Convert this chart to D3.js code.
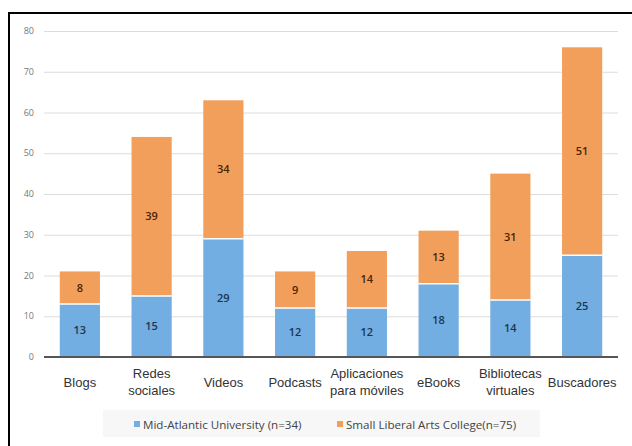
<meta charset="utf-8">
<style>
body { margin: 0; background: #fff; }
svg text { font-family: 'Open Sans', sans-serif; }
svg text.cat, svg text.cat tspan { font-family: 'Liberation Sans', Arial, sans-serif; }
</style>
<body>
<div id="chart"></div>
<script src="https://d3js.org/d3.v7.min.js"></script>
<script>
// categories and series
var categories = [["Blogs"], ["Redes", "sociales"], ["Videos"], ["Podcasts"],
                  ["Aplicaciones", "para móviles"], ["eBooks"], ["Bibliotecas", "virtuales"], ["Buscadores"]];
var midAtlantic = [13, 15, 29, 12, 12, 18, 14, 25];
var liberalArts = [8, 39, 34, 9, 14, 13, 31, 51];
var seriesNames = ["Mid-Atlantic University (n=34)", "Small Liberal Arts College(n=75)"];
var yTicks = [0, 10, 20, 30, 40, 50, 60, 70, 80];

var width = 632, height = 446,
    margin = {top: 31, right: 14, bottom: 89, left: 44};
var colors = ["#72aee1", "#f29f5c"],
    labelColors = ["#1d3552", "#4a2508"];

var svg = d3.select("#chart").append("svg")
    .attr("width", width)
    .attr("height", height);

// frame (left + top edges only, the rest is cropped)
svg.append("path")
    .attr("d", "M9,446 V13 H632")
    .attr("fill", "none")
    .attr("stroke", "#000")
    .attr("stroke-width", 2);

var g = svg.append("g").attr("transform", `translate(${margin.left},${margin.top})`);
var w = width - margin.left - margin.right,
    h = height - margin.top - margin.bottom;

var x = d3.scaleBand().domain(d3.range(categories.length)).range([0, w]).paddingInner(0.44).paddingOuter(0.22);
var y = d3.scaleLinear().domain([0, 80]).range([h, 0]);

// gridlines
g.append("g")
  .call(d3.axisLeft(y).tickValues(yTicks).tickSize(-w).tickFormat(""))
  .call(s => s.select(".domain").remove())
  .selectAll("line").attr("stroke", "#dcdcdc");

// y tick labels
g.append("g").selectAll("text")
  .data(yTicks).enter().append("text")
  .attr("x", -10)
  .attr("y", d => y(d))
  .attr("dy", "0.35em")
  .attr("text-anchor", "end")
  .attr("font-size", 9)
  .attr("fill", "#777")
  .text(d => d);

var stacked = categories.map((c, i) => ({i: i, vals: [midAtlantic[i], liberalArts[i]]}));

var col = g.selectAll(".col").data(stacked).enter().append("g")
    .attr("transform", d => `translate(${x(d.i)},0)`);

[0, 1].forEach(function(k) {
  col.append("rect")
    .attr("x", 0)
    .attr("width", x.bandwidth())
    .attr("y", d => y(d3.sum(d.vals.slice(0, k + 1))))
    .attr("height", d => y(d3.sum(d.vals.slice(0, k))) - y(d3.sum(d.vals.slice(0, k + 1))))
    .attr("fill", colors[k]);
  col.append("text")
    .attr("x", x.bandwidth() / 2)
    .attr("y", d => y(d3.sum(d.vals.slice(0, k)) + d.vals[k] / 2))
    .attr("dy", "0.35em")
    .attr("text-anchor", "middle")
    .attr("font-size", 11)
    .attr("font-weight", 600)
    .attr("fill", labelColors[k])
    .text(d => d.vals[k]);
});

// white separator between segments
col.append("line")
  .attr("x1", 0).attr("x2", x.bandwidth())
  .attr("y1", d => y(d.vals[0])).attr("y2", d => y(d.vals[0]))
  .attr("stroke", "#fff").attr("stroke-width", 1.5);

// baseline
g.append("line")
  .attr("x1", 0).attr("x2", w)
  .attr("y1", h).attr("y2", h)
  .attr("stroke", "#555").attr("stroke-width", 2);

// category labels
var cat = g.selectAll(".cat").data(categories).enter().append("text")
  .attr("class", "cat")
  .attr("text-anchor", "middle")
  .attr("font-size", 13)
  .attr("fill", "#333")
  .attr("transform", (d, i) => `translate(${x(i) + x.bandwidth() / 2},${h + (d.length > 1 ? 21 : 30)})`);
cat.selectAll("tspan").data(d => d).enter().append("tspan")
  .attr("x", 0)
  .attr("dy", (d, j) => j ? 17 : 0)
  .text(d => d);

// legend
var lg = svg.append("g");
lg.append("rect")
  .attr("x", 103).attr("y", 410).attr("width", 437).attr("height", 27)
  .attr("fill", "#f7f7f7");
var legX = [134, 337];
seriesNames.forEach(function(s, k) {
  lg.append("rect")
    .attr("x", legX[k]).attr("y", 421).attr("width", 6).attr("height", 6)
    .attr("fill", colors[k]);
  lg.append("text")
    .attr("x", legX[k] + 9).attr("y", 425)
    .attr("dy", "0.35em")
    .attr("font-size", 11.6)
    .attr("fill", "#444")
    .text(s);
});
</script>
</body>
